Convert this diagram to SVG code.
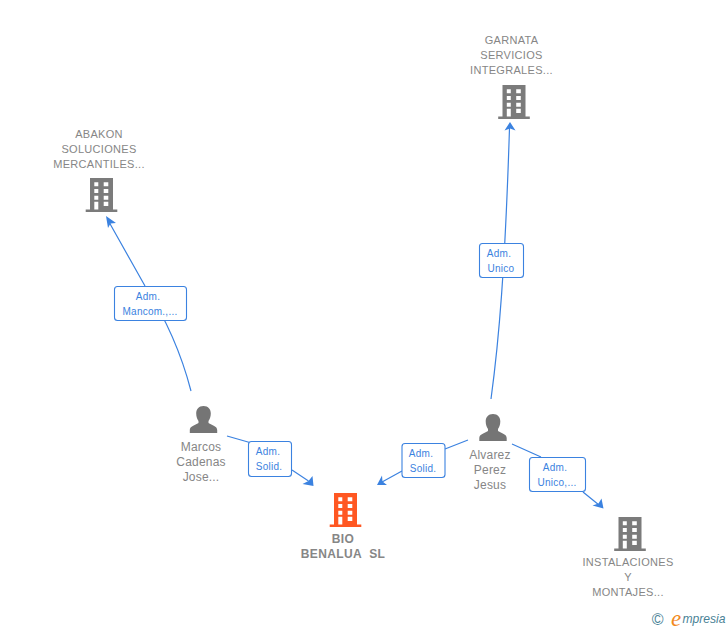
<svg xmlns="http://www.w3.org/2000/svg" width="728" height="630" viewBox="0 0 728 630">
<style>
text{font-family:"Liberation Sans",Arial,sans-serif}
.n{font-size:11px;fill:#868686;text-anchor:middle;letter-spacing:.3px}
.p{font-size:12px;fill:#868686;text-anchor:middle;letter-spacing:.2px}
.b{font-size:12px;font-weight:bold;fill:#868686;text-anchor:middle;letter-spacing:.4px}
.l{font-size:10px;fill:#3b82e0;text-anchor:middle;letter-spacing:.25px}
.c{fill:none;stroke:#3b82e0;stroke-width:1.2}
.a{fill:#3b82e0;stroke:none}
.box{fill:#fff;stroke:#3b82e0;stroke-width:1.1}
</style>
<defs>
<g id="bld">
<path fill-rule="evenodd" d="M-11.500 0H11.500V31.500H15.800V34H-15.800V31.500H-11.500ZM-7.200 4.300V8.300H-3.200V4.300ZM2.200 4.300V8.300H6.800V4.300ZM-7.200 11V15H-3.200V11ZM2.200 11V15H6.800V11ZM-7.200 17.700V21.700H-3.200V17.700ZM2.200 17.700V21.700H6.800V17.700ZM-7.200 23.700V31.500H-3.200V23.700ZM2.200 23.700V28H6.800V23.700Z"/>
</g>
<g id="per">
<path d="M0 0C4.800 0 7.300 3.300 7.300 7.500C7.300 10.500 6.300 13 5 15V17C8.500 19.500 13.700 20 13.700 24V27H-13.700V24C-13.700 20 -8.500 19.500 -5 17V15C-6.300 13 -7.300 10.500 -7.300 7.500C-7.300 3.300 -4.800 0 0 0Z"/>
</g>
</defs>
<rect width="728" height="630" fill="#fff"/>
<g id="connectors">
<path class="c" d="M191 391C183 360 170 325 145 286L109 222"/>
<path class="a" d="M106 216L116 223L110.500 223.500L108 228Z"/>
<path class="c" d="M491 399C499 340 505 270 509.500 128"/>
<path class="a" d="M510 122L515.500 130.500L510 128.500L504.500 130.500Z"/>
<path class="c" d="M227 436L255 444"/>
<path class="c" d="M292 470L308.500 481"/>
<path class="a" d="M313.500 486L312.500 476L308.500 481L302.500 484Z"/>
<path class="c" d="M468 440L445 449M402 471L382 482"/>
<path class="a" d="M377 485L387 485L382.500 481.500L382 475.500Z"/>
<path class="c" d="M512 444L541 457M583 492L599 505"/>
<path class="a" d="M603.500 508.500L601.500 498.500L598.500 503.500L592.500 505.500Z"/>
</g>
<g id="node-abakon">
<text class="n" x="99" y="138">ABAKON</text>
<text class="n" x="99" y="153">SOLUCIONES</text>
<text class="n" x="99" y="168">MERCANTILES...</text>
<use href="#bld" x="101.500" y="178" fill="#7b7b7b"/>
</g>
<g id="node-garnata">
<text class="n" x="511.500" y="44">GARNATA</text>
<text class="n" x="511.500" y="59">SERVICIOS</text>
<text class="n" x="511.500" y="74">INTEGRALES...</text>
<use href="#bld" x="514" y="85" fill="#7b7b7b"/>
</g>
<g id="node-marcos">
<use href="#per" x="203.500" y="406" fill="#757575"/>
<text class="p" x="201" y="451">Marcos</text>
<text class="p" x="201" y="466">Cadenas</text>
<text class="p" x="201" y="481">Jose...</text>
</g>
<g id="node-alvarez">
<use href="#per" x="493" y="414" fill="#757575"/>
<text class="p" x="490" y="459">Alvarez</text>
<text class="p" x="490" y="474">Perez</text>
<text class="p" x="490" y="489">Jesus</text>
</g>
<g id="node-bio">
<use href="#bld" x="345.500" y="493" fill="#ff5722"/>
<text class="b" x="343" y="543">BIO</text>
<text class="b" x="343" y="558" xml:space="preserve">BENALUA  SL</text>
</g>
<g id="node-instalaciones">
<use href="#bld" x="630" y="517" fill="#7b7b7b"/>
<text class="n" x="628" y="566">INSTALACIONES</text>
<text class="n" x="628" y="581">Y</text>
<text class="n" x="628" y="596">MONTAJES...</text>
</g>
<g id="label-mancom">
<rect class="box" x="114.500" y="286.500" width="72" height="34" rx="3"/>
<text class="l" x="148" y="300">Adm.</text>
<text class="l" x="150" y="315">Mancom.,...</text>
</g>
<g id="label-unico">
<rect class="box" x="479.500" y="243.500" width="44" height="34" rx="3"/>
<text class="l" x="499" y="257">Adm.</text>
<text class="l" x="501" y="272">Unico</text>
</g>
<g id="label-solid1">
<rect class="box" x="248.500" y="441.500" width="43" height="35" rx="3"/>
<text class="l" x="268" y="455">Adm.</text>
<text class="l" x="269" y="470">Solid.</text>
</g>
<g id="label-solid2">
<rect class="box" x="402" y="443.500" width="43" height="34" rx="3"/>
<text class="l" x="421" y="457">Adm.</text>
<text class="l" x="423" y="472">Solid.</text>
</g>
<g id="label-unico2">
<rect class="box" x="529.500" y="457.500" width="56" height="34" rx="3"/>
<text class="l" x="555" y="471">Adm.</text>
<text class="l" x="557" y="486">Unico,...</text>
</g>
<g id="logo">
<text x="657.700" y="624.500" font-size="16" fill="#4a8296" text-anchor="middle">©</text>
<text x="671" y="626" font-size="23" font-style="italic" fill="#f28a1e" style="font-family:'Liberation Serif',serif">e</text>
<text x="682.500" y="623" font-size="13" font-style="italic" fill="#4a8296" textLength="43" lengthAdjust="spacingAndGlyphs" style="font-family:'Liberation Sans',sans-serif">mpresia</text>
</g>
</svg>
